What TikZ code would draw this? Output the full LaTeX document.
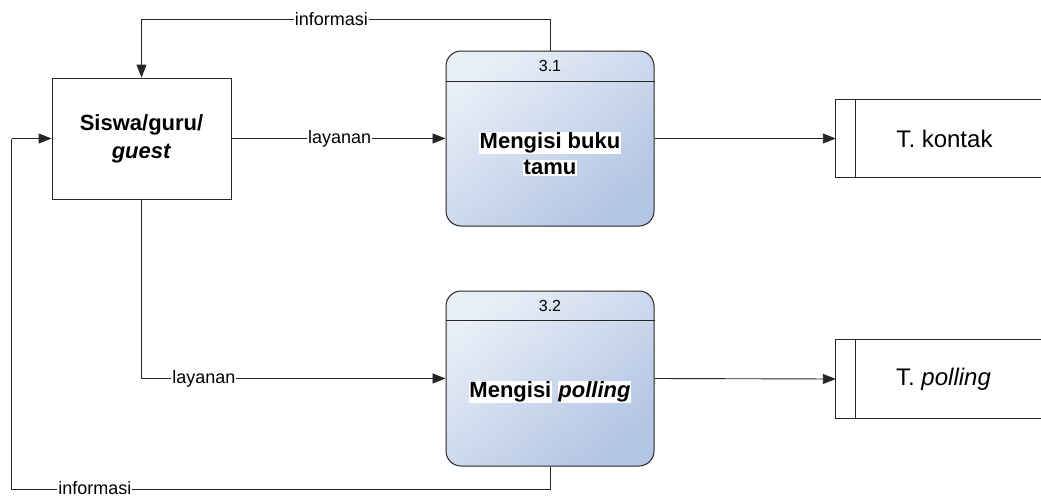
\documentclass[tikz,border=0pt]{standalone}
\usepackage{fontspec}
\setmainfont{Liberation Sans}
\usetikzlibrary{arrows.meta,calc}
\definecolor{plight}{HTML}{E8EEF7}
\definecolor{pdark}{HTML}{B2C5E3}
\definecolor{lnc}{HTML}{262626}
\begin{document}
\begin{tikzpicture}[x=1pt,y=-1pt,
  flow/.style={draw=lnc,line width=0.9pt},
  arr/.style={flow,-{Triangle[length=13pt,width=10pt]}},
  lab/.style={fill=white,inner xsep=1pt,inner ysep=0.5pt,font=\fontsize{18}{20}\selectfont},
  entbox/.style={draw=lnc,line width=0.9pt,fill=white,minimum width=179pt,minimum height=121pt,align=center,font=\fontsize{22}{28}\selectfont\bfseries},
  procbox/.style={draw=lnc,line width=1pt,rounded corners=15pt,minimum width=208pt,minimum height=175pt,
    top color=plight,bottom color=pdark,shading angle=40},
  ptext/.style={align=center,inner sep=0pt,font=\fontsize{22}{28}\selectfont\bfseries},
  pnum/.style={inner sep=0pt,font=\fontsize{16}{18}\selectfont},
  storebox/.style={minimum width=205pt,minimum height=78pt,inner sep=0pt,font=\fontsize{24}{26}\selectfont}
]
\useasboundingbox (0,0) rectangle (1041,498);
\fill[white] (0,0) rectangle (1041,498);
\setlength{\fboxsep}{0.5pt}

% entity
\node[entbox] (ent) at (141.5,138.5) {Siswa/guru/\\\textit{guest}};

% processes
\node[procbox] (p1) at (550,138.5) {};
\draw[line width=1pt,draw=lnc] ($(p1.north west)+(0,31)$) -- ($(p1.north east)+(0,31)$);
\node[pnum] (n1) at ($(p1.north)+(0,15.5)$) {3.1};
\node[ptext] (t1) at (550,154) {\colorbox{white}{Mengisi buku}\\[-2pt]\colorbox{white}{tamu}};

\node[procbox] (p2) at (550,378.5) {};
\draw[line width=1pt,draw=lnc] ($(p2.north west)+(0,30)$) -- ($(p2.north east)+(0,30)$);
\node[pnum] (n2) at ($(p2.north)+(0,15)$) {3.2};
\node[ptext] (t2) at (550,392) {\colorbox{white}{Mengisi}\ \colorbox{white}{\textit{polling}}};

% stores
\node[storebox] (s1) at (938.5,138.5) {\hspace*{12pt}T. kontak};
\draw[flow] (s1.north east) -- (s1.north west) -- (s1.south west) -- (s1.south east);
\draw[flow] ($(s1.north west)+(20,0)$) -- ($(s1.south west)+(20,0)$);

\node[storebox] (s2) at (938.5,379) {\hspace*{10pt}T. \textit{polling}};
\draw[flow] (s2.north east) -- (s2.north west) -- (s2.south west) -- (s2.south east);
\draw[flow] ($(s2.north west)+(20,0)$) -- ($(s2.south west)+(20,0)$);

% connectors
\coordinate (c1) at (550,19);
\coordinate (c2) at (141.5,19);
\draw[flow] (p1.north) -- (c1) -- node[lab,pos=0.535]{informasi} (c2);
\draw[arr] (c2) -- (ent.north);

\draw[arr] (ent.east) -- node[lab,pos=0.505]{layanan} (p1.west);
\draw[arr] (p1.east) -- (s1.west);

\coordinate (c3) at (141.5,378.5);
\draw[flow] (ent.south) -- (c3);
\draw[arr] (c3) -- node[lab,pos=0.205]{layanan} (p2.west);
\draw[arr] (p2.east) -- (s2.west);

\coordinate (c4) at (550,489);
\coordinate (c5) at (11.5,489);
\coordinate (c6) at (11.5,138.5);
\draw[flow] (p2.south) -- (c4) -- node[lab,pos=0.845,yshift=1pt]{informasi} (c5) -- (c6);
\draw[arr] (c6) -- (ent.west);
\end{tikzpicture}
\end{document}
